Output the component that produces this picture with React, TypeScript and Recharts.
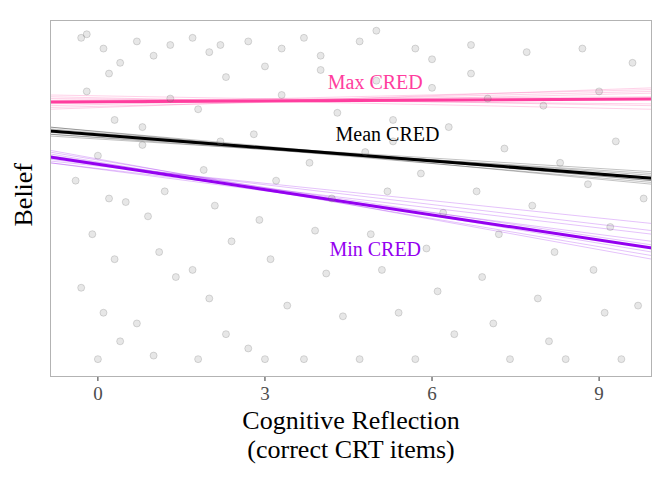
import React from "react";
import { ComposedChart, Scatter, Line, XAxis, YAxis, ReferenceDot } from "recharts";

const xTicks = [0, 3, 6, 9];
const pointX = [
  -0.3,0.1,0.4,-0.2,0.3,0.0,-0.4,0.2,0.5,-0.1,0.3,-0.3,0.1,0.4,0.0,-0.2,0.2,
  0.7,1.0,1.3,0.8,1.2,0.9,1.1,1.4,0.7,1.0,1.3,0.8,
  1.7,2.0,2.3,1.8,2.2,1.9,2.1,2.4,1.7,2.0,2.3,1.8,2.2,
  2.7,3.0,3.3,2.8,3.2,2.9,3.1,3.4,2.7,3.0,3.3,
  3.7,4.0,4.3,3.8,4.2,3.9,4.1,4.4,3.7,4.0,
  4.7,5.0,5.3,4.8,5.2,4.9,5.1,5.4,4.7,5.0,5.3,
  5.7,6.0,6.3,5.8,6.2,5.9,6.1,6.4,5.7,6.0,
  6.7,7.0,7.3,6.8,7.2,6.9,7.1,7.4,6.7,
  7.7,8.0,8.3,7.8,8.2,7.9,8.1,8.4,
  8.7,9.0,9.3,8.8,9.2,8.9,9.1,9.4,
  9.6,9.8,9.7,
];
const pointY = [
  0.95,0.92,0.88,0.80,0.72,0.62,0.55,0.50,0.49,0.40,0.33,0.25,0.18,0.10,0.05,0.96,0.85,
  0.94,0.90,0.78,0.65,0.52,0.45,0.35,0.28,0.15,0.06,0.93,0.70,
  0.95,0.91,0.84,0.75,0.66,0.58,0.48,0.38,0.30,0.22,0.12,0.05,0.93,
  0.94,0.87,0.79,0.68,0.55,0.44,0.33,0.20,0.08,0.05,0.92,
  0.95,0.86,0.74,0.60,0.50,0.41,0.29,0.17,0.05,0.90,
  0.94,0.83,0.72,0.63,0.52,0.40,0.30,0.18,0.05,0.97,0.66,
  0.92,0.81,0.70,0.57,0.46,0.36,0.24,0.12,0.05,0.89,
  0.93,0.78,0.64,0.52,0.40,0.28,0.15,0.05,0.85,
  0.91,0.76,0.60,0.48,0.35,0.22,0.10,0.05,
  0.92,0.80,0.66,0.54,0.42,0.30,0.18,0.05,
  0.88,0.50,0.20,
];
const points = pointX.map((x, i) => ({ x, y: pointY[i] }));

const lineX = [-0.86, 9.95];
const maxY = [0.770, 0.779];
const meanY = [0.689, 0.557];
const minY = [0.616, 0.361];
const maxBoot = [[0.75, 0.81], [0.785, 0.75], [0.76, 0.80], [0.78, 0.765], [0.765, 0.805], [0.775, 0.785], [0.755, 0.795], [0.79, 0.76]];
const meanBoot = [[0.70, 0.54], [0.68, 0.575], [0.695, 0.55], [0.685, 0.565], [0.69, 0.545], [0.675, 0.57], [0.70, 0.55], [0.68, 0.56]];
const minBoot = [[0.635, 0.33], [0.60, 0.40], [0.625, 0.34], [0.605, 0.43], [0.62, 0.37], [0.61, 0.41], [0.63, 0.35], [0.60, 0.38]];

const mk = (ys: number[]) => lineX.map((x, i) => ({ x, y: ys[i] }));
const PINK = "#ff3d9e";
const PURPLE = "#9400f0";
const F = "'Liberation Serif', 'DejaVu Serif', serif";

const XLabel = (props: any) => {
  const vb = props.viewBox;
  const cx = vb.x + vb.width / 2;
  return (
    <text x={cx} y={vb.y + 52} textAnchor="middle" fontFamily={F} fontSize={26} fill="#000">
      <tspan x={cx}>Cognitive Reflection</tspan>
      <tspan x={cx} dy={29}>(correct CRT items)</tspan>
    </text>
  );
};

export default function App() {
  return (
    <div style={{ position: "absolute", left: 0, top: 0, width: 672, height: 480, background: "#fff" }}>
      <ComposedChart width={672} height={480} margin={{ top: 20, right: 20, bottom: 0, left: 0 }}>
        <XAxis type="number" dataKey="x" domain={[-0.86, 9.95]} ticks={xTicks} allowDataOverflow
          height={103} tick={{ fontFamily: F, fontSize: 19, fill: "#4d4d4d", dy: 4 }} tickLine={{ stroke: "#333" }}
          tickSize={4} axisLine={false} label={<XLabel />} />
        <YAxis type="number" dataKey="y" domain={[0, 1]} width={50} tick={false} tickLine={false} axisLine={false}
          label={{ value: "Belief", angle: -90, position: "insideLeft", dx: 18, dy: 28, fontFamily: F, fontSize: 26, fill: "#000" }} />
        <Scatter data={points} isAnimationActive={false}
          shape={(p: any) => <circle cx={p.cx} cy={p.cy} r={3.5} fill="#888" fillOpacity={0.2} stroke="#555" strokeOpacity={0.2} />} />
        {maxBoot.map((b, i) => <Line key={"a" + i} data={mk(b)} dataKey="y" stroke={PINK} strokeOpacity={0.3} strokeWidth={0.8} dot={false} isAnimationActive={false} />)}
        {meanBoot.map((b, i) => <Line key={"b" + i} data={mk(b)} dataKey="y" stroke="#000" strokeOpacity={0.3} strokeWidth={0.8} dot={false} isAnimationActive={false} />)}
        {minBoot.map((b, i) => <Line key={"c" + i} data={mk(b)} dataKey="y" stroke={PURPLE} strokeOpacity={0.3} strokeWidth={0.8} dot={false} isAnimationActive={false} />)}
        <Line data={mk(maxY)} dataKey="y" stroke={PINK} strokeWidth={3} dot={false} isAnimationActive={false} />
        <Line data={mk(meanY)} dataKey="y" stroke="#000" strokeWidth={3} dot={false} isAnimationActive={false} />
        <Line data={mk(minY)} dataKey="y" stroke={PURPLE} strokeWidth={3} dot={false} isAnimationActive={false} />
        <ReferenceDot x={4.98} y={0.826} r={0} label={{ value: "Max CRED", fill: PINK, fontFamily: F, fontSize: 20 }} />
        <ReferenceDot x={5.2} y={0.681} r={0} label={{ value: "Mean CRED", fill: "#000", fontFamily: F, fontSize: 20 }} />
        <ReferenceDot x={4.98} y={0.359} r={0} label={{ value: "Min CRED", fill: PURPLE, fontFamily: F, fontSize: 20 }} />
      </ComposedChart>
      <div style={{ position: "absolute", left: 50, top: 20, width: 602, height: 357, border: "1px solid #b3b3b3", boxSizing: "border-box", pointerEvents: "none" }} />
    </div>
  );
}
